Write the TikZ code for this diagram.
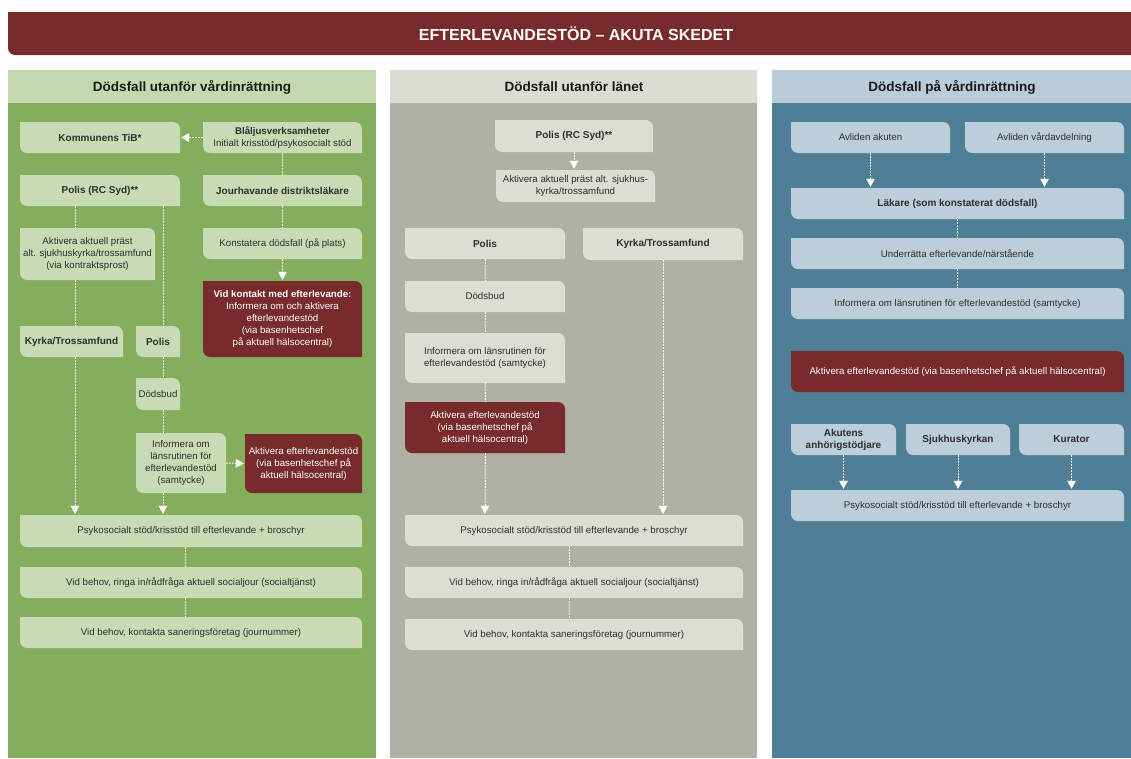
\documentclass[tikz,border=0pt]{standalone}
\usepackage{fontspec}
\setmainfont{Liberation Sans}
\usetikzlibrary{arrows.meta}
\definecolor{tred}{HTML}{772B2A}
\definecolor{ghead}{HTML}{C5D9B0}
\definecolor{gbody}{HTML}{84AD5E}
\definecolor{gbox}{HTML}{C8DBB4}
\definecolor{mhead}{HTML}{DCDCD4}
\definecolor{mbody}{HTML}{B0B0A4}
\definecolor{mbox}{HTML}{DDDDD6}
\definecolor{bhead}{HTML}{B9CCDA}
\definecolor{bbody}{HTML}{4F7F96}
\definecolor{bbox}{HTML}{BCCEDA}
\definecolor{btxt}{HTML}{2E2E2E}
% #1 name, #2 x1, #3 y1, #4 x2, #5 y2, #6 fill, #7 node style, #8 text
\newcommand{\leafbox}[8]{%
  \fill[#6] ({#2},{-#3}) -- ({#4-7},{-#3}) arc[start angle=90,end angle=0,radius=7pt]
    -- ({#4},{-#5}) -- ({#2+7},{-#5}) arc[start angle=270,end angle=180,radius=7pt] -- cycle;
  \node[#7, minimum width={#4-#2}, minimum height={#5-#3}] (#1) at ({(#2+#4)/2},{-(#3+#5)/2}) {#8};
}
\tikzset{
  lt/.style={inner sep=0pt, align=center, text=btxt, font=\fontsize{9.7}{12}\selectfont},
  bt/.style={lt, font=\fontsize{10}{12}\selectfont\bfseries},
  wt/.style={lt, text=white},
  hdr/.style={inner sep=0pt, text=black!90, font=\fontsize{13.5}{15}\selectfont\bfseries},
  conn/.style={draw=white, dash pattern=on 1.5pt off 1.5pt, line width=1pt},
  arr/.style={conn, -{Triangle[width=8.5pt,length=8pt]}, shorten >=1pt},
}
\begin{document}
\begin{tikzpicture}[x=1pt,y=1pt]
\useasboundingbox (0,0) rectangle (1131,-758);
\fill[white] (0,0) rectangle (1131,-758);
% title bar
\fill[tred] (8,-12) -- (1131,-12) -- (1131,-55) -- (15,-55) arc[start angle=270,end angle=180,radius=7pt] -- cycle;
\node[text=white, font=\fontsize{16}{18}\selectfont\bfseries] (title) at (576,-33.5) {EFTERLEVANDESTÖD – AKUTA SKEDET};
% columns
\fill[ghead] (8,-70) rectangle (376,-103);
\fill[gbody] (8,-103) rectangle (376,-758);
\fill[mhead] (390,-70) rectangle (757,-103);
\fill[mbody] (390,-103) rectangle (757,-758);
\fill[bhead] (772,-70) rectangle (1131,-103);
\fill[bbody] (772,-103) rectangle (1131,-758);
\node[hdr] (h1) at (192,-87) {Dödsfall utanför vårdinrättning};
\node[hdr] (h2) at (574,-87) {Dödsfall utanför länet};
\node[hdr] (h3) at (952,-87) {Dödsfall på vårdinrättning};

% ---------- left column ----------
\leafbox{tib}{20}{122}{180}{153}{gbox}{bt}{Kommunens TiB*}
\leafbox{blal}{203}{122}{362}{153}{gbox}{lt}{\textbf{Blåljusverksamheter}\\Initialt krisstöd/psykosocialt stöd}
\leafbox{polrc}{20}{175}{180}{206}{gbox}{bt}{Polis (RC Syd)**}
\leafbox{jour}{203}{175}{362}{206}{gbox}{bt}{Jourhavande distriktsläkare}
\leafbox{prast}{20}{228}{155}{280}{gbox}{lt}{Aktivera aktuell präst\\alt. sjukhuskyrka/trossamfund\\(via kontraktsprost)}
\leafbox{konst}{203}{228}{362}{259}{gbox}{lt}{Konstatera dödsfall (på plats)}
\leafbox{vidk}{203}{281}{362}{357}{tred}{wt}{\textbf{Vid kontakt med efterlevande:}\\Informera om och aktivera\\efterlevandestöd\\(via basenhetschef\\på aktuell hälsocentral)}
\leafbox{kyrka}{20}{326}{123}{357}{gbox}{bt}{Kyrka/Trossamfund}
\leafbox{polis1}{136}{326}{180}{357}{gbox}{bt}{Polis}
\leafbox{dbud1}{136}{378}{180}{410}{gbox}{lt}{Dödsbud}
\leafbox{inf1}{136}{433}{226}{493}{gbox}{lt}{Informera om\\länsrutinen för\\efterlevandestöd\\(samtycke)}
\leafbox{akt1}{245}{434}{362}{493}{tred}{wt}{Aktivera efterlevandestöd\\(via basenhetschef på\\aktuell hälsocentral)}
\leafbox{psyk1}{20}{515}{362}{547}{gbox}{lt}{Psykosocialt stöd/krisstöd till efterlevande + broschyr}
\leafbox{beh1}{20}{567}{362}{598}{gbox}{lt}{Vid behov, ringa in/rådfråga aktuell socialjour (socialtjänst)}
\leafbox{san1}{20}{617}{362}{648}{gbox}{lt}{Vid behov, kontakta saneringsföretag (journummer)}

% ---------- middle column ----------
\leafbox{polrc2}{495}{120}{653}{152}{mbox}{bt}{Polis (RC Syd)**}
\leafbox{prast2}{496}{170}{655}{202}{mbox}{lt}{Aktivera aktuell präst alt. sjukhus-\\kyrka/trossamfund}
\leafbox{polis2}{405}{228}{565}{259}{mbox}{bt}{Polis}
\leafbox{kyrka2}{583}{228}{743}{260}{mbox}{bt}{Kyrka/Trossamfund}
\leafbox{dbud2}{405}{281}{565}{312}{mbox}{lt}{Dödsbud}
\leafbox{inf2}{405}{333}{565}{383}{mbox}{lt}{Informera om länsrutinen för\\efterlevandestöd (samtycke)}
\leafbox{akt2}{405}{402}{565}{453}{tred}{wt}{Aktivera efterlevandestöd\\(via basenhetschef på\\aktuell hälsocentral)}
\leafbox{psyk2}{405}{515}{743}{546}{mbox}{lt}{Psykosocialt stöd/krisstöd till efterlevande + broschyr}
\leafbox{beh2}{405}{567}{743}{598}{mbox}{lt}{Vid behov, ringa in/rådfråga aktuell socialjour (socialtjänst)}
\leafbox{san2}{405}{619}{743}{650}{mbox}{lt}{Vid behov, kontakta saneringsföretag (journummer)}

% ---------- right column ----------
\leafbox{akut}{791}{122}{950}{153}{bbox}{lt}{Avliden akuten}
\leafbox{vard}{965}{122}{1124}{153}{bbox}{lt}{Avliden vårdavdelning}
\leafbox{lak}{791}{188}{1124}{219}{bbox}{bt}{Läkare (som konstaterat dödsfall)}
\leafbox{und}{791}{238}{1124}{269}{bbox}{lt}{Underrätta efterlevande/närstående}
\leafbox{inf3}{791}{288}{1124}{319}{bbox}{lt}{Informera om länsrutinen för efterlevandestöd (samtycke)}
\leafbox{akt3}{791}{351}{1124}{392}{tred}{wt}{Aktivera efterlevandestöd (via basenhetschef på aktuell hälsocentral)}
\leafbox{anh}{791}{424}{896}{455}{bbox}{bt}{Akutens\\anhörigstödjare}
\leafbox{sjk}{906}{424}{1010}{455}{bbox}{bt}{Sjukhuskyrkan}
\leafbox{kur}{1019}{424}{1124}{455}{bbox}{bt}{Kurator}
\leafbox{psyk3}{791}{490}{1124}{521}{bbox}{lt}{Psykosocialt stöd/krisstöd till efterlevande + broschyr}

% ---------- connectors ----------
\coordinate (xa) at (75,0);
\coordinate (xb) at (163,0);
\coordinate (xc) at (185,0);
\coordinate (xm) at (569,0);
\draw[arr] (blal.west) -- (tib.east);
\draw[conn] (blal.south) -- (jour.north);
\draw[conn] (jour.south) -- (konst.north);
\draw[arr] (konst.south) -- (vidk.north);
\draw[conn] (polrc.south -| xa) -- (prast.north -| xa);
\draw[conn] (prast.south -| xa) -- (kyrka.north -| xa);
\draw[arr] (kyrka.south -| xa) -- (psyk1.north -| xa);
\draw[conn] (polrc.south -| xb) -- (polis1.north -| xb);
\draw[conn] (polis1.south -| xb) -- (dbud1.north -| xb);
\draw[conn] (dbud1.south -| xb) -- (inf1.north -| xb);
\draw[arr] (inf1.south -| xb) -- (psyk1.north -| xb);
\draw[arr] (inf1.east) -- (akt1.west);
\draw[conn] (psyk1.south -| xc) -- (beh1.north -| xc);
\draw[conn] (beh1.south -| xc) -- (san1.north -| xc);

\draw[arr] (polrc2.south) -- (prast2.north -| polrc2.south);
\draw[conn] (polis2.south) -- (dbud2.north);
\draw[conn] (dbud2.south) -- (inf2.north);
\draw[conn] (inf2.south) -- (akt2.north);
\draw[arr] (akt2.south) -- (psyk2.north -| akt2.south);
\draw[arr] (kyrka2.south) -- (psyk2.north -| kyrka2.south);
\draw[conn] (psyk2.south -| xm) -- (beh2.north -| xm);
\draw[conn] (beh2.south -| xm) -- (san2.north -| xm);

\draw[arr] (akut.south) -- (lak.north -| akut.south);
\draw[arr] (vard.south) -- (lak.north -| vard.south);
\draw[conn] (lak.south) -- (und.north);
\draw[conn] (und.south) -- (inf3.north);
\draw[arr] (anh.south) -- (psyk3.north -| anh.south);
\draw[arr] (sjk.south) -- (psyk3.north -| sjk.south);
\draw[arr] (kur.south) -- (psyk3.north -| kur.south);
\end{tikzpicture}
\end{document}
